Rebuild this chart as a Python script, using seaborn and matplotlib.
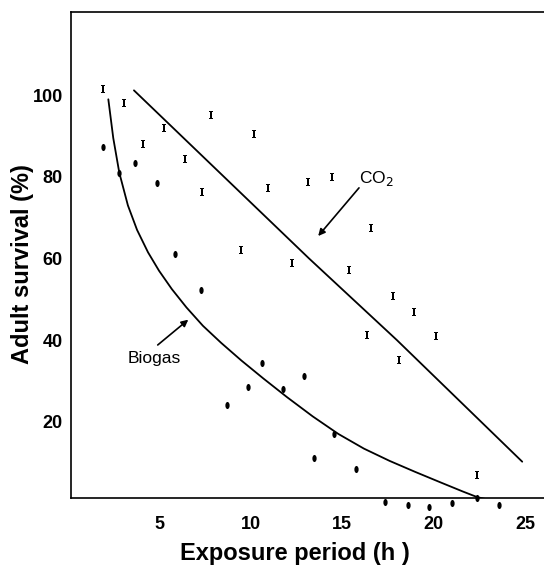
import matplotlib
matplotlib.use("Agg")
import matplotlib.pyplot as plt
import seaborn as sns
import pandas as pd
from matplotlib.path import Path
from matplotlib.transforms import Affine2D

# ---- data ----
co2_x = [1.92, 3.10, 4.14, 5.26, 6.42, 7.37, 7.84, 9.48, 10.19, 10.94, 12.25,
         13.16, 14.44, 15.40, 16.35, 16.57, 17.80, 18.13, 18.95, 20.14, 22.36]
co2_y = [101.5, 98.1, 88.0, 91.9, 84.4, 76.3, 95.2, 62.1, 90.5, 77.2, 59.0,
         78.8, 79.9, 57.2, 41.3, 67.4, 50.7, 35.0, 47.0, 40.9, 7.0]

bio_x = [1.92, 2.83, 3.70, 4.87, 5.87, 7.28, 8.73, 9.88, 10.65, 11.76, 12.92,
         13.47, 14.58, 15.77, 17.37, 18.62, 19.75, 21.00, 22.36, 23.58]
bio_y = [87.3, 80.9, 83.5, 78.6, 61.1, 52.3, 24.1, 28.6, 34.3, 28.0, 31.2,
         11.0, 17.0, 8.4, 0.2, -0.4, -0.8, 0.0, 1.2, -0.4]

# fitted curves
co2_fit_x = [3.63, 13.2, 18.0, 24.85]
co2_fit_y = [101.2, 60.0, 40.0, 10.2]

bio_fit_x = [2.23, 2.50, 2.83, 3.30, 3.80, 4.40, 5.00, 5.70, 6.50, 7.40, 8.40,
             9.50, 10.70, 12.00, 13.40, 14.80, 16.20, 17.60, 19.00, 20.40,
             21.60, 22.40, 22.90]
bio_fit_y = [99.0, 89.5, 81.0, 73.0, 67.0, 61.5, 57.0, 52.5, 48.0, 43.5, 39.3,
             35.0, 30.6, 26.0, 21.3, 17.0, 13.4, 10.4, 7.7, 5.1,
             2.9, 1.5, 1.0]

x_ticks = [5, 10, 15, 20, 25]
y_ticks = [20, 40, 60, 80, 100]

co2_pts = pd.DataFrame({"x": co2_x, "y": co2_y})
bio_pts = pd.DataFrame({"x": bio_x, "y": bio_y})
co2_fit = pd.DataFrame({"x": co2_fit_x, "y": co2_fit_y})
bio_fit = pd.DataFrame({"x": bio_fit_x, "y": bio_fit_y})

sns.set_style("white")
plt.rcParams["font.family"] = ["Liberation Sans", "DejaVu Sans"]
plt.rcParams["text.color"] = "black"
plt.rcParams["axes.labelcolor"] = "black"
plt.rcParams["xtick.color"] = "black"
plt.rcParams["ytick.color"] = "black"

W, H = 544, 566
fig = plt.figure(figsize=(W / 100, H / 100), dpi=100)
L, R, B, T = 71, 546, 498, 12
ax = fig.add_axes([L / W, (H - B) / H, (R - L) / W, (B - T) / H])

ellipse = Path.unit_circle().transformed(Affine2D().scale(0.6, 1.0))

sns.lineplot(data=co2_fit, x="x", y="y", ax=ax, color="black", lw=1.3,
             sort=False, estimator=None)
sns.lineplot(data=bio_fit, x="x", y="y", ax=ax, color="black", lw=1.3,
             sort=False, estimator=None)
sns.scatterplot(data=co2_pts, x="x", y="y", ax=ax, marker=r"$\mathtt{I}$",
                s=30, color="black", linewidth=0, clip_on=False)
sns.scatterplot(data=bio_pts, x="x", y="y", ax=ax, marker=ellipse,
                s=26, color="black", linewidth=0, clip_on=False)

ax.set_xlim(0.19, 26.15)
ax.set_ylim(1.3, 120.4)
ax.set_xticks(x_ticks)
ax.set_yticks(y_ticks)
ax.set_xticklabels([str(v) for v in x_ticks], fontsize=13, fontweight="bold",
                   color="black")
ax.set_yticklabels([str(v) for v in y_ticks], fontsize=13, fontweight="bold",
                   color="black")
ax.tick_params(axis="both", direction="in", length=6, width=1.1, color="black",
               labelcolor="black")
ax.tick_params(axis="x", pad=13)
ax.tick_params(axis="y", pad=6)

for s in ["left", "bottom", "top"]:
    ax.spines[s].set_visible(True)
    ax.spines[s].set_color("black")
    ax.spines[s].set_linewidth(1.2)
ax.spines["right"].set_visible(False)

ax.set_xlabel("Exposure period (h )", fontsize=17, fontweight="bold",
              color="black")
ax.set_ylabel("Adult survival (%)", fontsize=17, fontweight="bold",
              color="black")
ax.xaxis.set_label_coords((295 - L) / (R - L), (B - 542) / (B - T))
ax.yaxis.set_label_coords((34 - L) / (R - L), (B - 264) / (B - T))

ax.text(15.93, 78.5, "CO$_2$", fontsize=12.5, ha="left", va="baseline",
        color="black")
ax.annotate("", xy=(13.70, 65.5), xytext=(15.93, 77.3),
            arrowprops=dict(arrowstyle="-|>", color="black", lw=1.2,
                            mutation_scale=10, shrinkA=0, shrinkB=0))
ax.text(3.31, 34.4, "Biogas", fontsize=12.5, ha="left", va="baseline",
        color="black")
ax.annotate("", xy=(6.60, 45.0), xytext=(4.93, 38.8),
            arrowprops=dict(arrowstyle="-|>", color="black", lw=1.2,
                            mutation_scale=10, shrinkA=0, shrinkB=0))

fig.savefig("out.png", dpi=100)
